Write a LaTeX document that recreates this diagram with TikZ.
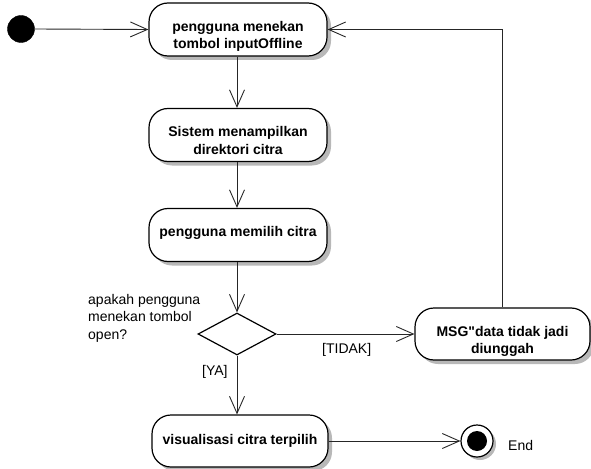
\documentclass[tikz,border=0pt]{standalone}
\usepackage{fontspec}
\setmainfont{Liberation Sans}[Ligatures=TeXOff]
\usetikzlibrary{arrows.meta,shapes.geometric,shadows}

\tikzset{
  actbox/.style={draw=black, line width=1.2pt, fill=white, rounded corners=19pt,
    minimum width=178pt, minimum height=53pt, inner sep=0pt,
    drop shadow={shadow xshift=4pt, shadow yshift=-4pt, fill=black!28, opacity=1}},
  acttext/.style={anchor=base, inner sep=0pt, font=\fontsize{14}{17.5}\selectfont\bfseries},
  flow/.style={draw=black!85, line width=0.9pt, -{Straight Barb[length=17pt,width=15pt]}},
  note/.style={inner sep=0pt, font=\fontsize{14}{17.5}\selectfont},
  decision/.style={diamond, draw=black, line width=1.2pt, fill=white, inner sep=0pt,
    minimum width=78pt, minimum height=42pt},
}

\begin{document}
\begin{tikzpicture}[x=1pt,y=-1pt]
\useasboundingbox (0,0) rectangle (591,468);

% initial node
\node[circle, fill=black, draw=black, minimum size=27pt, inner sep=0pt] (start) at (21,29) {};

% activities
\node[actbox] (b1) at (238,29.5) {};
\node[acttext] (t1) at ([yshift=-29pt]b1.north) {\begin{tabular}[t]{@{}c@{}}pengguna menekan\\tombol inputOffline\end{tabular}};

\node[actbox] (b2) at (238,135) {};
\node[acttext] (t2) at ([yshift=-29pt]b2.north) {\begin{tabular}[t]{@{}c@{}}Sistem menampilkan\\direktori citra\end{tabular}};

\node[actbox] (b3) at (238,235) {};
\node[acttext] (t3) at ([yshift=-29pt]b3.north) {pengguna memilih citra};

\node[decision] (dec) at (237,334) {};

\node[actbox, minimum width=175pt, minimum height=52pt] (msg) at (502.5,334) {};
\node[acttext] (t4) at ([yshift=-29pt]msg.north) {\begin{tabular}[t]{@{}c@{}}MSG"data tidak jadi\\diunggah\end{tabular}};

\node[actbox, minimum width=176pt, minimum height=52pt] (b5) at (240,441) {};
\node[acttext] (t5) at ([yshift=-30pt]b5.north) {visualisasi citra terpilih};

% final node
\node[circle, draw=black, line width=1.2pt, fill=white, minimum size=32pt, inner sep=0pt,
  drop shadow={shadow xshift=3pt, shadow yshift=-3pt, fill=black!28, opacity=1}] (end) at (477,441) {};
\node[circle, fill=black, minimum size=20pt, inner sep=0pt] (endin) at (end.center) {};
\node[note, anchor=base west] (endlbl) at (508,450) {End};

% guard and decision texts
\node[note, anchor=base west] (q) at (88,304) {\begin{tabular}[t]{@{}l@{}}apakah pengguna\\menekan tombol\\open?\end{tabular}};
\node[note, anchor=base west] (no) at (322,353) {[TIDAK]};
\node[note, anchor=base west] (yes) at (202,375) {[YA]};

% flows
\draw[flow] (start.east) -- (b1.west);
\draw[flow] (b1.south -| dec.north) -- (b2.north -| dec.north);
\draw[flow] (b2.south -| dec.north) -- (b3.north -| dec.north);
\draw[flow] (b3.south -| dec.north) -- (dec.north);
\draw[flow] (dec.east) -- (msg.west);
\draw[flow] (dec.south) -- (dec.south |- b5.north);
\draw[flow] (b5.east) -- (end.west);
\draw[flow] (msg.north) |- (b1.east);
\end{tikzpicture}
\end{document}
